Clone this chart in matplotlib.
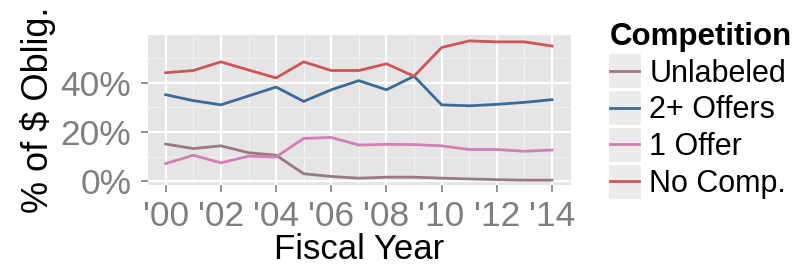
import matplotlib.pyplot as plt
from matplotlib.ticker import FixedLocator
from matplotlib.patches import Rectangle

plt.rcParams['font.family'] = ['Liberation Sans', 'DejaVu Sans']

# fiscal years and share of obligations (%) by competition type
years = list(range(2000, 2015))
unlabeled = [15.1, 13.3, 14.4, 11.6, 10.6, 3.1, 2.0, 1.3, 1.7, 1.7, 1.3, 1.0, 0.7, 0.5, 0.5]
two_plus = [35.1, 32.7, 31.0, 34.6, 38.2, 32.4, 37.1, 40.8, 37.1, 42.6, 31.0, 30.6, 31.2, 32.0, 33.1]
one_offer = [7.2, 10.6, 7.5, 10.2, 9.9, 17.4, 17.8, 14.7, 15.0, 14.9, 14.4, 12.9, 12.9, 12.2, 12.7]
no_comp = [44.0, 44.9, 48.4, 45.1, 41.9, 48.4, 44.9, 44.9, 47.6, 42.6, 54.2, 56.9, 56.5, 56.5, 54.8]

series_names = ['Unlabeled', '2+ Offers', '1 Offer', 'No Comp.']
series_vals = [unlabeled, two_plus, one_offer, no_comp]
colors = ['#9a7a80', '#3a6a9a', '#d27fb4', '#cf5556']

year_ticks = list(range(2000, 2015, 2))
year_labels = ["'%02d" % (y % 100) for y in year_ticks]
pct_ticks = [0, 20, 40]

fig = plt.figure(figsize=(7.99, 2.73), dpi=100)
ax = fig.add_axes([0.185, 0.322, 0.53, 0.55])
ax.set_facecolor('#e5e5e5')

for name, vals, c in zip(series_names, series_vals, colors):
    ax.plot(years, vals, color=c, lw=2.0, label=name, zorder=3)

ax.set_xlim(1999.35, 2014.7)
ax.set_ylim(-1.5, 59.3)
ax.set_xticks(year_ticks)
ax.set_xticklabels(year_labels)
ax.set_yticks(pct_ticks)
ax.set_yticklabels(['%d%%' % v for v in pct_ticks])
ax.xaxis.set_minor_locator(FixedLocator(list(range(2001, 2015, 2))))
ax.yaxis.set_minor_locator(FixedLocator([10, 30, 50]))

ax.grid(which='major', color='white', lw=1.6, zorder=1)
ax.grid(which='minor', color='#f2f2f2', lw=0.8, zorder=1)
ax.set_axisbelow(True)
for s in ax.spines.values():
    s.set_visible(False)

ax.tick_params(which='major', length=5, width=1.2, color='#7f7f7f',
               labelcolor='#7f7f7f', labelsize=25.5)
ax.tick_params(axis='y', pad=7)
ax.tick_params(axis='x', pad=6)
ax.tick_params(which='minor', length=0)

ax.set_xlabel('Fiscal Year', fontsize=25, labelpad=0)
ax.set_ylabel('% of $ Oblig.', fontsize=26, labelpad=3)

leg = ax.legend(loc='upper left', bbox_to_anchor=(0.763, 0.92), bbox_transform=fig.transFigure,
                frameon=False, fontsize=22, handlelength=0.95, handletextpad=0.35,
                labelspacing=0.22, borderaxespad=0, borderpad=0, title='Competition',
                title_fontproperties={'weight': 'bold', 'size': 22.5})
leg._legend_box.align = 'left'
for h in leg.legend_handles:
    h.set_linewidth(2.0)

# grey key backgrounds like ggplot legend keys
fig.canvas.draw()
for h in leg.legend_handles:
    bb = h.get_window_extent()
    x0, x1 = bb.x0 - 2, bb.x1 + 2
    yc = (bb.y0 + bb.y1) / 2
    r = Rectangle((x0, yc - 17.5), x1 - x0, 35, transform=None,
                  facecolor='#ebebeb', edgecolor='white', lw=0.8, zorder=-1)
    fig.patches.append(r)

fig.savefig('out.png', dpi=100)
